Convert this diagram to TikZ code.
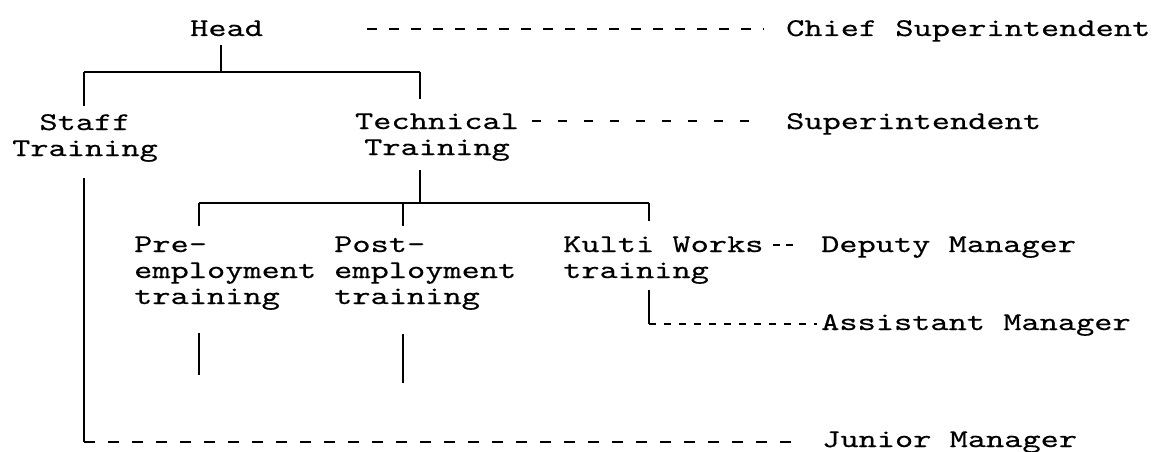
\documentclass[tikz,border=0pt]{standalone}
\usepackage{fontspec}
\setmonofont{lmmono10-regular.otf}[FakeStretch=1.36, FakeBold=0.4]
\begin{document}
\begin{tikzpicture}[x=1pt,y=-1pt,
  lbl/.style={inner sep=0pt, font=\ttfamily\fontsize{25.5}{26}\selectfont},
  tie/.style={line width=1.8pt},
  rung/.style={line width=1.4pt, dash pattern=on 10pt off 12pt}]
\useasboundingbox (0,0) rectangle (1159,452);

% posts (multi-line nodes are placed by the baseline of their last line)
\node[lbl, anchor=base west] (head) at (190,36) {Head};
\node[lbl, anchor=base west] (chief) at (786,36) {Chief Superintendent};
\node[lbl, anchor=base, align=center] (staff) at (85,156) {Staff\\Training};
\node[lbl, anchor=base, align=center] (tech) at (437,155) {Technical\\Training};
\node[lbl, anchor=base west] (supt) at (786,129) {Superintendent};
\node[lbl, anchor=base west, align=left] (pre) at (134,304) {Pre-\\employment\\training};
\node[lbl, anchor=base west, align=left] (post) at (334,304) {Post-\\employment\\training};
\node[lbl, anchor=base west, align=left] (kulti) at (563,278) {Kulti Works\\training};
\node[lbl, anchor=base west] (deputy) at (821,252) {Deputy Manager};
\node[lbl, anchor=base west] (asst) at (821,330) {Assistant Manager};
\node[lbl, anchor=base west] (junior) at (822,447) {Junior Manager};

% junction points
\coordinate (hs) at (221,45);   \coordinate (b1m) at (221,72);
\coordinate (b1l) at (84,72);   \coordinate (b1r) at (420,72);
\coordinate (sTop) at (84,106); \coordinate (tTop) at (420,99);
\coordinate (sBot) at (84,178); \coordinate (jc) at (84,442);
\coordinate (tBot) at (420,170); \coordinate (b2m) at (420,203);
\coordinate (b2l) at (199,203); \coordinate (b2p) at (403,203); \coordinate (b2r) at (649,203);
\coordinate (pTop) at (199,226); \coordinate (qTop) at (403,226); \coordinate (kTop) at (649,221);
\coordinate (pB1) at (199,333); \coordinate (pB2) at (199,375);
\coordinate (qB1) at (403,334); \coordinate (qB2) at (403,383);
\coordinate (kB1) at (649,290); \coordinate (kc) at (649,324);
\coordinate (hd1) at (367,29);  \coordinate (hd2) at (764,29);
\coordinate (td1) at (532,121); \coordinate (td2) at (764,121);
\coordinate (dd1) at (773,245); \coordinate (dd2) at (793,245);
\coordinate (ad2) at (817,324); \coordinate (jd2) at (804,442);

% solid tree
\draw[tie] (hs) -- (b1m);
\draw[tie] (b1l) -- (b1r);
\draw[tie] (b1l) -- (sTop);
\draw[tie] (b1r) -- (tTop);
\draw[tie] (sBot) -- (jc);
\draw[tie] (tBot) -- (b2m);
\draw[tie] (b2l) -- (b2r);
\draw[tie] (b2l) -- (pTop);
\draw[tie] (b2p) -- (qTop);
\draw[tie] (b2r) -- (kTop);
\draw[tie] (pB1) -- (pB2);
\draw[tie] (qB1) -- (qB2);
\draw[tie] (kB1) -- (kc);

% dashed ties to grades
\draw[rung] (hd1) -- (hd2);
\draw[rung, dash pattern=on 9pt off 17pt] (td1) -- (td2);
\draw[rung, dash pattern=on 7pt off 6pt] (dd1) -- (dd2);
\draw[rung, dash pattern=on 7pt off 8pt] (kc) -- (ad2);
\draw[rung, dash pattern=on 11pt off 13pt] (jc) -- (jd2);
\end{tikzpicture}
\end{document}
